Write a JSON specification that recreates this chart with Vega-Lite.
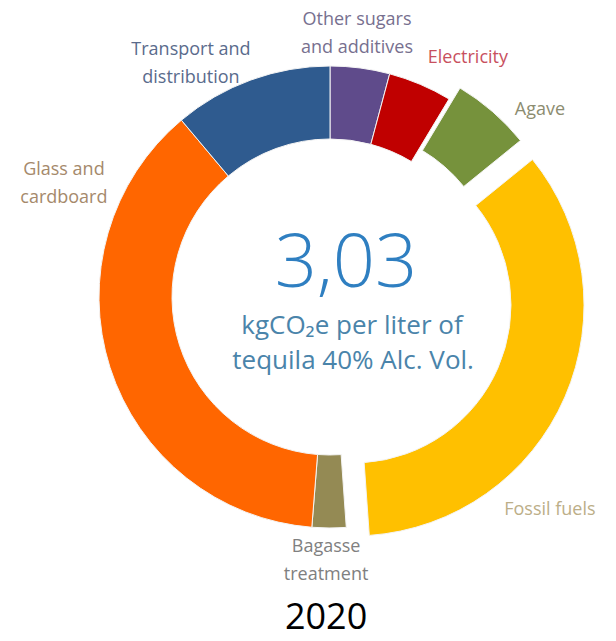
{
  "$schema": "https://vega.github.io/schema/vega-lite/v6.json",
  "width": 616,
  "height": 641,
  "autosize": {"type": "none"},
  "padding": 0,
  "background": "white",
  "config": {"view": {"stroke": null}, "font": "Open Sans"},
  "datasets": {
    "slices": [
      {"idx": 1, "item": "Other sugars and additives", "kg": 0.126},
      {"idx": 2, "item": "Electricity", "kg": 0.135},
      {"idx": 3, "item": "Agave", "kg": 0.168},
      {"idx": 4, "item": "Fossil fuels", "kg": 1.052},
      {"idx": 5, "item": "Bagasse treatment", "kg": 0.072},
      {"idx": 6, "item": "Glass and cardboard", "kg": 1.140},
      {"idx": 7, "item": "Transport and distribution", "kg": 0.337}
    ],
    "labels": [
      {"item": "Transport and distribution", "label": "Transport and\ndistribution", "lx": -0.602, "ly": 1.048},
      {"item": "Other sugars and additives", "label": "Other sugars\nand additives", "lx": 0.117, "ly": 1.177},
      {"item": "Electricity", "label": "Electricity", "lx": 0.597, "ly": 1.013},
      {"item": "Agave", "label": "Agave", "lx": 0.909, "ly": 0.788},
      {"item": "Glass and cardboard", "label": "Glass and\ncardboard", "lx": -1.152, "ly": 0.528},
      {"item": "Fossil fuels", "label": "Fossil fuels", "lx": 0.952, "ly": -0.944},
      {"item": "Bagasse treatment", "label": "Bagasse\ntreatment", "lx": -0.017, "ly": -1.104}
    ],
    "center": [
      {"line": "3,03", "cx": 0.069, "cy": 0.043, "kind": "value"},
      {"line": "kgCO₂e  per liter of", "cx": 0.095, "cy": -0.16, "kind": "unit"},
      {"line": "tequila 40% Alc. Vol.", "cx": 0.1, "cy": -0.312, "kind": "unit"},
      {"line": "2020", "cx": -0.017, "cy": -1.437, "kind": "year"}
    ]
  },
  "layer": [
    {
      "data": {"name": "slices"},
      "mark": {"type": "arc", "radius": 231, "radius2": 158, "stroke": "#f4f4f4", "strokeWidth": 1},
      "encoding": {
        "theta": {"field": "kg", "type": "quantitative", "stack": true},
        "order": {"field": "idx", "type": "quantitative"},
        "color": {"field": "item", "type": "nominal", "legend": null,
          "scale": {"domain": ["Other sugars and additives", "Electricity", "Agave", "Fossil fuels", "Bagasse treatment", "Glass and cardboard", "Transport and distribution"],
                    "range": ["#5F4B8B", "#C00000", "#76923C", "#FFC000", "#948A54", "#FF6600", "#2F5B8F"]}},
        "x": {"datum": 0, "type": "quantitative", "axis": null, "scale": {"domain": [-1.4286, 1.2381], "nice": false, "zero": false}},
        "y": {"datum": 0, "type": "quantitative", "axis": null, "scale": {"domain": [-1.4892, 1.2857], "nice": false, "zero": false}},
        "opacity": {"condition": {"test": "datum.item === 'Agave' || datum.item === 'Fossil fuels'", "value": 0}, "value": 1}
      }
    },
    {
      "data": {"name": "slices"},
      "mark": {"type": "arc", "radius": 231, "radius2": 158, "stroke": "#f4f4f4", "strokeWidth": 1},
      "encoding": {
        "theta": {"field": "kg", "type": "quantitative", "stack": true},
        "order": {"field": "idx", "type": "quantitative"},
        "color": {"field": "item", "type": "nominal", "legend": null,
          "scale": {"domain": ["Other sugars and additives", "Electricity", "Agave", "Fossil fuels", "Bagasse treatment", "Glass and cardboard", "Transport and distribution"],
                    "range": ["#5F4B8B", "#C00000", "#76923C", "#FFC000", "#948A54", "#FF6600", "#2F5B8F"]}},
        "x": {"datum": 0.0476, "type": "quantitative", "axis": null, "scale": {"domain": [-1.4286, 1.2381], "nice": false, "zero": false}},
        "y": {"datum": 0.0476, "type": "quantitative", "axis": null, "scale": {"domain": [-1.4892, 1.2857], "nice": false, "zero": false}},
        "opacity": {"condition": {"test": "datum.item === 'Agave'", "value": 1}, "value": 0}
      }
    },
    {
      "data": {"name": "slices"},
      "mark": {"type": "arc", "radius": 231, "radius2": 158, "stroke": "#f4f4f4", "strokeWidth": 1},
      "encoding": {
        "theta": {"field": "kg", "type": "quantitative", "stack": true},
        "order": {"field": "idx", "type": "quantitative"},
        "color": {"field": "item", "type": "nominal", "legend": null,
          "scale": {"domain": ["Other sugars and additives", "Electricity", "Agave", "Fossil fuels", "Bagasse treatment", "Glass and cardboard", "Transport and distribution"],
                    "range": ["#5F4B8B", "#C00000", "#76923C", "#FFC000", "#948A54", "#FF6600", "#2F5B8F"]}},
        "x": {"datum": 0.0996, "type": "quantitative", "axis": null, "scale": {"domain": [-1.4286, 1.2381], "nice": false, "zero": false}},
        "y": {"datum": -0.0346, "type": "quantitative", "axis": null, "scale": {"domain": [-1.4892, 1.2857], "nice": false, "zero": false}},
        "opacity": {"condition": {"test": "datum.item === 'Fossil fuels'", "value": 1}, "value": 0}
      }
    },
    {
      "data": {"name": "labels"},
      "mark": {"type": "text", "lineBreak": "\n", "fontSize": 18, "lineHeight": 28, "align": "center", "baseline": "alphabetic"},
      "encoding": {
        "x": {"field": "lx", "type": "quantitative", "axis": null, "scale": {"domain": [-1.4286, 1.2381], "nice": false, "zero": false}},
        "y": {"field": "ly", "type": "quantitative", "axis": null, "scale": {"domain": [-1.4892, 1.2857], "nice": false, "zero": false}},
        "text": {"field": "label", "type": "nominal"},
        "color": {"field": "item", "type": "nominal", "legend": null,
          "scale": {"domain": ["Other sugars and additives", "Electricity", "Agave", "Fossil fuels", "Bagasse treatment", "Glass and cardboard", "Transport and distribution"],
                    "range": ["#77708f", "#c8505e", "#8c8c70", "#bcae88", "#808080", "#a5896b", "#5a6b8c"]}}
      }
    },
    {
      "data": {"name": "center"},
      "transform": [{"filter": "datum.kind === 'value'"}],
      "mark": {"type": "text", "align": "center", "baseline": "alphabetic", "fontSize": 74, "fontWeight": 300, "color": "#2f7fc1"},
      "encoding": {
        "x": {"field": "cx", "type": "quantitative", "axis": null, "scale": {"domain": [-1.4286, 1.2381], "nice": false, "zero": false}},
        "y": {"field": "cy", "type": "quantitative", "axis": null, "scale": {"domain": [-1.4892, 1.2857], "nice": false, "zero": false}},
        "text": {"field": "line", "type": "nominal"}
      }
    },
    {
      "data": {"name": "center"},
      "transform": [{"filter": "datum.kind === 'unit'"}],
      "mark": {"type": "text", "align": "center", "baseline": "alphabetic", "fontSize": 26, "color": "#4a84aa"},
      "encoding": {
        "x": {"field": "cx", "type": "quantitative", "axis": null, "scale": {"domain": [-1.4286, 1.2381], "nice": false, "zero": false}},
        "y": {"field": "cy", "type": "quantitative", "axis": null, "scale": {"domain": [-1.4892, 1.2857], "nice": false, "zero": false}},
        "text": {"field": "line", "type": "nominal"}
      }
    },
    {
      "data": {"name": "center"},
      "transform": [{"filter": "datum.kind === 'year'"}],
      "mark": {"type": "text", "align": "center", "baseline": "alphabetic", "fontSize": 36, "color": "#000000"},
      "encoding": {
        "x": {"field": "cx", "type": "quantitative", "axis": null, "scale": {"domain": [-1.4286, 1.2381], "nice": false, "zero": false}},
        "y": {"field": "cy", "type": "quantitative", "axis": null, "scale": {"domain": [-1.4892, 1.2857], "nice": false, "zero": false}},
        "text": {"field": "line", "type": "nominal"}
      }
    }
  ],
  "resolve": {"scale": {"color": "independent"}}
}
